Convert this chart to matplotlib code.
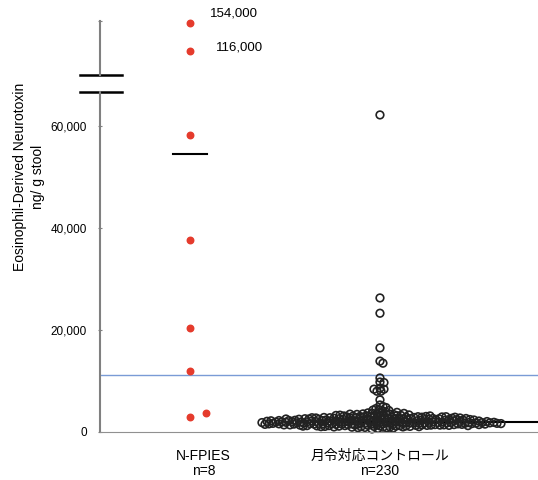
import numpy as np
import matplotlib
matplotlib.use('Agg')
from matplotlib import pyplot as plt

plt.rcParams['font.family'] = ['Liberation Sans', 'Noto Sans CJK JP', 'DejaVu Sans']

# values (ng/g stool)
groups = ['N-FPIES\nn=8', '月令対応コントロール\nn=230']
fpies = [154000, 116000, 58200, 37600, 20400, 12000, 2900, 3700]
fpies_line = 54500
control_high = [62200, 26300, 23300, 16500, 13900, 13500, 10600, 9800, 9700,
                8600, 8000, 8000, 8400, 8400, 6300, 5300]
control_low = [
    1200, 1850, 2400, 950, 3100, 1600, 2200, 1400, 2750, 1900, 3400, 1100, 2050, 2600, 1750, 800, 2900, 1500, 2300, 3800,
    1300, 2150, 1700, 2500, 1000, 3200, 1950, 2850, 1450, 2350, 4100, 1150, 1800, 2650, 3000, 1250, 2000, 1550, 3600, 2450,
    900, 1650, 2700, 2100, 1350, 3300, 1900, 2550, 1050, 4400, 2250, 1600, 2950, 1750, 1200, 3500, 2050, 1450, 2800, 700,
    1850, 2400, 1300, 3150, 2000, 1550, 2650, 1100, 3700, 2200, 1700, 2900, 1400, 2500, 1950, 3050, 1250, 2300, 1800, 4600,
    1500, 2750, 2100, 1000, 3400, 1650, 2450, 1900, 2850, 1350, 3250, 2150, 1750, 600, 2600, 1450, 2000, 3900, 1600, 2350,
    1150, 2950, 1850, 2550, 1300, 3100, 2250, 1700, 2700, 1950, 850, 3550, 2050, 1400, 2400, 1800, 3000, 1550, 2150, 4200,
    1250, 2600, 1900, 3350, 1050, 2300, 1650, 2800, 2000, 1450, 3200, 1750, 2500, 1350, 2900, 1600, 2200, 3750, 1100, 2450,
    1950, 1500, 2650, 1800, 3050, 2100, 1200, 2750, 1700, 3450, 2350, 1550, 950, 2550, 1850, 3150, 2050, 1400, 2850, 5000,
    1650, 2250, 1300, 3300, 1900, 2600, 1000, 2400, 1750, 3650, 2000, 1450, 2950, 1600, 2150, 750, 2700, 1850, 3500, 1250,
    2300, 1550, 2800, 1950, 3250, 1150, 2500, 1700, 4300, 2050, 1400, 2650, 1800, 3000, 2200, 1350, 2450, 1600, 3850, 1900,
    2100, 1500, 2750, 1250, 3150, 2350, 1700, 4800, 1850, 2550, 1050, 2900, 1650, 2250]
control_line = 2000
cutoff = 11200
yticks = [0, 20000, 40000, 60000]
ytick_labels = ['0', '20,000', '40,000', '60,000']
notes = ['154,000', '116,000']

BREAK = 66700

fig = plt.figure(figsize=(5.38, 4.8), dpi=100)
ax = fig.add_axes([100/538, 48/480, 438/538, 340/480])
axt = fig.add_axes([100/538, 405/480, 438/538, 54/480])

for a in (ax, axt):
    a.set_xlim(0.526, 2.832)
    for s in ('top', 'right', 'bottom'):
        a.spines[s].set_visible(False)
    a.spines['left'].set_color('#808080')
    a.spines['left'].set_linewidth(1.5)
    a.tick_params(axis='y', direction='inout', length=3, color='#808080',
                  labelsize=8.5, pad=8)
ax.set_ylim(0, BREAK)
axt.set_ylim(84000, 156000)
axt.set_yticks([156000])
axt.set_yticklabels([''])
axt.set_xticks([])

ax.spines['bottom'].set_visible(True)
ax.spines['bottom'].set_color('#909090')
ax.spines['bottom'].set_linestyle((0, (1, 1)))
ax.set_yticks(yticks)
ax.set_yticklabels(ytick_labels)
ax.set_xticks([1.07, 2.0])
ax.set_xticklabels(groups, fontsize=10, linespacing=1.15)
ax.tick_params(axis='x', length=0, pad=12)


def swarm(a, center, values, gap):
    # spread points sideways from the center so they don't pile up
    pts = a.transData.transform(np.column_stack([np.full(len(values), center), values]))
    cx = pts[0, 0]
    offs = np.arange(-400, 401)
    offs = offs[np.argsort(np.abs(offs) + 0.1 * (offs < 0))]
    placed = np.empty((0, 2))
    out = []
    for y in pts[:, 1]:
        cand = cx + offs
        if len(placed):
            d2 = (cand[:, None] - placed[None, :, 0])**2 + (y - placed[None, :, 1])**2
            ok = np.all(d2 >= gap**2, axis=1)
            x = cand[np.argmax(ok)]
        else:
            x = cx
        placed = np.vstack([placed, [x, y]])
        out.append([x, y])
    return a.transData.inverted().transform(np.array(out))[:, 0]


ctrl = np.array(control_high + control_low)
cx = swarm(ax, 2.0, ctrl, 3.15)
fp = np.array(fpies)
lo = fp < BREAK
fx = swarm(ax, 1.0, fp[lo], 16)

ax.axhline(cutoff, color='#7a9bd6', lw=1, zorder=1)
ax.plot([1.8, 2.9], [control_line, control_line], color='black', lw=1.5, zorder=1)
ax.plot([0.91, 1.09], [fpies_line, fpies_line], color='black', lw=1.5, zorder=3)

ax.scatter(cx, ctrl, s=30, facecolors='none', edgecolors='#222222', linewidths=1.2,
           zorder=2, clip_on=False)
ax.scatter(fx, fp[lo], s=22, color='#e53b2c', zorder=3, clip_on=False)
axt.scatter(np.full((~lo).sum(), 1.0), fp[~lo], s=22, color='#e53b2c', zorder=3,
            clip_on=False)
for v, t, dx, dy in zip(fp[~lo], notes, [0.105, 0.137], [12500, 5000]):
    axt.text(1.0 + dx, v + dy, t, fontsize=9.5, va='center', ha='left', clip_on=False)

# axis break marks
ax.plot([-0.046, 0.05], [1, 1], color='black', lw=1.8, transform=ax.transAxes, clip_on=False)
axt.plot([-0.046, 0.05], [0, 0], color='black', lw=1.8, transform=axt.transAxes, clip_on=False)

fig.text(0.054, 0.631, 'Eosinophil-Derived Neurotoxin\nng/ g stool', rotation=90,
         ha='center', va='center', fontsize=10, linespacing=1.3)

fig.savefig('out.png', dpi=100)
